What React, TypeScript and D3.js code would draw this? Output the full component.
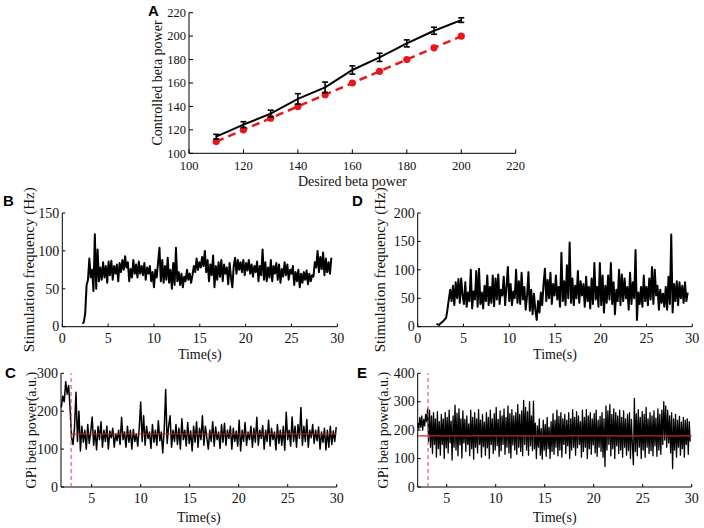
import React from 'react';
import * as d3 from 'd3';

const W = 704;
const H = 528;
const serif = '"Liberation Serif", "Times New Roman", serif';
const sans = '"Liberation Sans", Arial, sans-serif';
const red = '#e8161b';
const lineRed = '#c8282e';

// panel A: desired vs controlled beta power
const desired = [110, 120, 130, 140, 150, 160, 170, 180, 190, 200];
const controlled = [114.2, 124.5, 133.8, 146.4, 156.3, 171.1, 181.9, 193.8, 204.6, 213.7];
const controlledErr = [2, 2.5, 3, 4.5, 4.5, 3.5, 3.5, 3, 3, 2];

// panel B: stimulation frequency (Hz), target 140
const bStart = 2.2;
const bStep = 0.15;
const bFreq = [
  4, 6, 18, 55, 62, 90, 65, 75, 47, 122,
  50, 102, 60, 78, 62, 85, 65, 80, 58, 86,
  68, 87, 62, 80, 70, 82, 60, 84, 72, 88,
  75, 93, 78, 85, 60, 76, 65, 88, 70, 82,
  65, 86, 70, 80, 68, 84, 62, 78, 70, 80,
  60, 72, 52, 75, 65, 85, 104, 60, 88, 58,
  80, 62, 91, 58, 75, 50, 84, 55, 104, 60,
  72, 55, 70, 52, 66, 60, 75, 62, 70, 58,
  68, 80, 72, 90, 75, 85, 78, 92, 80, 100,
  72, 88, 60, 82, 68, 94, 52, 80, 62, 85,
  66, 88, 60, 82, 70, 78, 56, 84, 65, 52,
  80, 91, 70, 88, 75, 85, 72, 88, 68, 84,
  74, 88, 70, 82, 66, 80, 72, 86, 60, 80,
  68, 102, 62, 85, 60, 78, 65, 88, 60, 80,
  70, 84, 62, 82, 58, 76, 66, 85, 68, 82,
  62, 75, 70, 80, 55, 72, 60, 75, 52, 70,
  58, 72, 62, 74, 56, 70, 60, 68, 66, 85,
  78, 100, 72, 92, 76, 98, 68, 90, 72, 85,
  70, 91,
];

// panel C: GPi beta power, target 140
const cStart = 1.9;
const cStep = 0.15;
const cTarget = 140;
const cOnset = 2.9;
const cPower = [
  210, 240, 225, 278, 245, 268, 205, 130, 112, 158,
  250, 120, 200, 95, 160, 118, 150, 100, 165, 115,
  145, 185, 110, 150, 98, 160, 125, 172, 105, 150,
  120, 160, 100, 148, 130, 155, 105, 140, 122, 150,
  112, 184, 125, 145, 105, 160, 118, 150, 100, 152,
  120, 140, 108, 155, 224, 120, 188, 110, 160, 128,
  145, 102, 165, 118, 150, 110, 175, 122, 145, 90,
  150, 257, 115, 160, 188, 105, 150, 120, 165, 112,
  155, 100, 180, 125, 150, 108, 170, 115, 148, 95,
  160, 118, 172, 105, 155, 125, 188, 110, 160, 130,
  100, 150, 120, 172, 108, 158, 125, 145, 102, 165,
  118, 168, 110, 150, 128, 160, 100, 155, 120, 148,
  108, 176, 95, 150, 120, 170, 110, 145, 125, 160,
  105, 155, 118, 184, 110, 150, 128, 162, 100, 150,
  120, 176, 108, 155, 125, 145, 98, 165, 115, 150,
  110, 160, 97, 197, 125, 150, 108, 185, 120, 160,
  105, 165, 128, 210, 110, 160, 120, 178, 105, 150,
  130, 165, 115, 150, 122, 158, 100, 145, 118, 155,
  98, 150, 105, 160, 112, 148, 120, 158,
];

// panel D: stimulation frequency (Hz), target 180
const dStart = 2.05;
const dStep = 0.15;
const dFreq = [
  5, 4, 3, 6, 8, 10, 13, 15, 30, 48,
  65, 45, 72, 38, 78, 50, 84, 42, 85, 55,
  40, 78, 35, 60, 45, 100, 32, 62, 48, 98,
  35, 102, 40, 60, 32, 72, 45, 90, 38, 70,
  42, 90, 36, 85, 48, 92, 40, 65, 55, 88,
  38, 70, 105, 45, 75, 38, 62, 50, 100, 42,
  80, 40, 95, 48, 70, 30, 55, 96, 28, 65,
  22, 58, 30, 12, 45, 25, 60, 38, 75, 102,
  45, 82, 50, 95, 40, 75, 55, 90, 48, 70,
  35, 130, 45, 80, 38, 108, 50, 148, 42, 85,
  38, 72, 50, 98, 42, 80, 55, 75, 35, 88,
  45, 70, 32, 85, 40, 112, 48, 70, 35, 112,
  38, 90, 25, 72, 42, 90, 48, 112, 40, 78,
  22, 65, 45, 100, 38, 92, 45, 85, 50, 70,
  30, 95, 40, 78, 50, 135, 12, 60, 40, 70,
  35, 90, 45, 70, 38, 85, 48, 105, 40, 100,
  55, 72, 30, 65, 42, 58, 35, 70, 30, 88,
  40, 162, 25, 75, 45, 80, 38, 78, 50, 72,
  42, 78, 45, 60,
];

// panel E: GPi beta power, target 180
const eStart = 2.05;
const eStep = 0.1;
const eTarget = 180;
const eOnset = 3.1;
const ePower = [
  225, 205, 245, 210, 250, 200, 238, 215, 255, 230,
  275, 160, 270, 140, 250, 118, 262, 150, 240, 105,
  265, 135, 230, 112, 255, 150, 240, 100, 262, 138,
  245, 120, 270, 155, 232, 95, 250, 140, 288, 130,
  260, 110, 275, 148, 240, 102, 268, 155, 238, 125,
  250, 150, 222, 110, 270, 135, 245, 98, 262, 140,
  240, 120, 272, 150, 235, 105, 255, 142, 228, 112,
  262, 138, 245, 100, 270, 150, 240, 118, 258, 130,
  280, 145, 238, 108, 268, 128, 250, 150, 275, 115,
  245, 140, 285, 120, 258, 102, 272, 148, 250, 130,
  262, 115, 290, 140, 255, 125, 268, 110, 305, 150,
  280, 130, 265, 112, 300, 145, 250, 128, 302, 135,
  225, 100, 215, 140, 240, 112, 205, 98, 235, 130,
  220, 108, 245, 135, 210, 100, 230, 125, 258, 115,
  235, 140, 270, 110, 248, 130, 262, 105, 240, 150,
  255, 118, 235, 145, 262, 100, 240, 130, 272, 140,
  245, 112, 265, 138, 250, 150, 230, 105, 270, 125,
  245, 140, 272, 100, 250, 135, 262, 115, 240, 148,
  258, 120, 270, 108, 235, 140, 248, 125, 262, 105,
  240, 72, 285, 130, 268, 150, 290, 110, 255, 135,
  275, 100, 262, 145, 250, 118, 270, 130, 245, 105,
  268, 140, 240, 112, 255, 128, 262, 100, 238, 145,
  78, 312, 125, 258, 110, 272, 140, 245, 100, 265,
  130, 255, 105, 280, 140, 240, 118, 262, 128, 250,
  110, 268, 145, 242, 108, 275, 130, 255, 115, 270,
  150, 300, 165, 285, 140, 270, 155, 250, 120, 262,
  65, 240, 130, 255, 105, 235, 140, 248, 112, 228,
  135, 245, 105, 235, 150, 240, 115, 230, 160,
];

const timeTicks = [0, 5, 10, 15, 20, 25, 30];
const timeTicksLate = [5, 10, 15, 20, 25, 30];

type Lin = d3.ScaleLinear<number, number>;

function Axes({ x, y, xTicks, yTicks, fs, tick, xLabel, yLabel, xLabelY, yLabelX, xTickDy, yLabelFs }: {
  x: Lin; y: Lin; xTicks: number[]; yTicks: number[]; fs: number; tick: number;
  xLabel: string; yLabel: string; xLabelY: number; yLabelX: number; xTickDy: number; yLabelFs: number;
}) {
  const [xa, xb] = x.range();
  const [ya, yb] = y.range();
  const midY = (ya + yb) / 2;
  return (
    <g fontFamily={serif} fill="#111">
      <line x1={xa} x2={xb} y1={ya} y2={ya} stroke="#000" strokeWidth={1} />
      <line x1={xa} x2={xa} y1={ya} y2={yb} stroke="#000" strokeWidth={1} />
      {xTicks.map(t => (
        <g key={'x' + t}>
          <line x1={x(t)} x2={x(t)} y1={ya} y2={ya - tick} stroke="#000" />
          <text x={x(t)} y={ya + xTickDy} fontSize={fs} textAnchor="middle">{t}</text>
        </g>
      ))}
      {yTicks.map(t => (
        <g key={'y' + t}>
          <line x1={xa} x2={xa + tick} y1={y(t)} y2={y(t)} stroke="#000" />
          <text x={xa - 3} y={y(t) + fs * 0.34} fontSize={fs} textAnchor="end">{t}</text>
        </g>
      ))}
      <text x={(xa + xb) / 2} y={xLabelY} fontSize={14} textAnchor="middle">{xLabel}</text>
      <text transform={`translate(${yLabelX},${midY}) rotate(-90)`} fontSize={yLabelFs} textAnchor="middle">{yLabel}</text>
    </g>
  );
}

function Trace({ x, y, start, step, values, width }: {
  x: Lin; y: Lin; start: number; step: number; values: number[]; width: number;
}) {
  const path = d3.line<number>()
    .x((d, i) => x(start + i * step))
    .y(d => y(d))(values);
  return <path d={path || ''} fill="none" stroke="#000" strokeWidth={width} strokeLinejoin="round" />;
}

function PanelA() {
  const x = d3.scaleLinear().domain([100, 220]).range([189, 515.7]);
  const y = d3.scaleLinear().domain([100, 220]).range([153.3, 12.7]);
  const ticks = d3.range(100, 221, 20);
  const black = d3.line<number>().x((d, i) => x(desired[i])).y(d => y(d))(controlled);
  const target = d3.line<number>().x(d => x(d)).y(d => y(d))(desired);
  return (
    <g>
      <Axes x={x} y={y} xTicks={ticks} yTicks={ticks} fs={12.5} tick={4}
        xLabel="Desired beta power" yLabel="Controlled beta power"
        xLabelY={186} yLabelX={162} xTickDy={16.5} yLabelFs={14} />
      <path d={target || ''} fill="none" stroke={red} strokeWidth={2.5} strokeDasharray="8,5" />
      {desired.map(d => <circle key={d} cx={x(d)} cy={y(d)} r={3.6} fill={red} />)}
      <path d={black || ''} fill="none" stroke="#000" strokeWidth={2} />
      {desired.map((d, i) => {
        const cx = x(d);
        const lo = y(controlled[i] - controlledErr[i]);
        const hi = y(controlled[i] + controlledErr[i]);
        return (
          <g key={'e' + d} stroke="#000" strokeWidth={1.6}>
            <line x1={cx} x2={cx} y1={lo} y2={hi} />
            <line x1={cx - 3} x2={cx + 3} y1={lo} y2={lo} />
            <line x1={cx - 3} x2={cx + 3} y1={hi} y2={hi} />
          </g>
        );
      })}
      <text x={148} y={16} fontFamily={sans} fontWeight="bold" fontSize={15}>A</text>
    </g>
  );
}

function FreqPanel({ x0, x1, yMax, yTicks, start, step, values, letter, letterX, yLabelX }: {
  x0: number; x1: number; yMax: number; yTicks: number[]; start: number; step: number;
  values: number[]; letter: string; letterX: number; yLabelX: number;
}) {
  const x = d3.scaleLinear().domain([0, 30]).range([x0, x1]);
  const y = d3.scaleLinear().domain([0, yMax]).range([326.7, 213]);
  return (
    <g>
      <Axes x={x} y={y} xTicks={timeTicks} yTicks={yTicks} fs={14} tick={3}
        xLabel="Time(s)" yLabel="Stimulation frequency (Hz)"
        xLabelY={359} yLabelX={yLabelX} xTickDy={16} yLabelFs={15} />
      <Trace x={x} y={y} start={start} step={step} values={values} width={2} />
      <text x={letterX} y={206} fontFamily={sans} fontWeight="bold" fontSize={15}>{letter}</text>
    </g>
  );
}

function PowerPanel({ x0, x1, tMin, yMax, yTicks, start, step, values, target, onset, lineFrom, width, letter, letterX, yLabelX }: {
  x0: number; x1: number; tMin: number; yMax: number; yTicks: number[]; start: number; step: number;
  values: number[]; target: number; onset: number; lineFrom: number; width: number;
  letter: string; letterX: number; yLabelX: number;
}) {
  const x = d3.scaleLinear().domain([tMin, 30]).range([x0, x1]);
  const y = d3.scaleLinear().domain([0, yMax]).range([487, 373.3]);
  return (
    <g>
      <Axes x={x} y={y} xTicks={timeTicksLate} yTicks={yTicks} fs={14} tick={3}
        xLabel="Time(s)" yLabel="GPi beta power(a.u.)"
        xLabelY={522} yLabelX={yLabelX} xTickDy={16} yLabelFs={14} />
      <Trace x={x} y={y} start={start} step={step} values={values} width={width} />
      <line x1={x(lineFrom)} x2={x(30)} y1={y(target)} y2={y(target)} stroke={lineRed} strokeWidth={1.1} />
      <line x1={x(onset)} x2={x(onset)} y1={y(0)} y2={y(yMax)} stroke="#e0506a" strokeWidth={1.1} strokeDasharray="4,3" />
      <text x={letterX} y={378} fontFamily={sans} fontWeight="bold" fontSize={15}>{letter}</text>
    </g>
  );
}

export default function App() {
  return (
    <svg width={W} height={H} style={{ position: 'absolute', left: 0, top: 0, background: '#fff' }}>
      <rect width={W} height={H} fill="#fff" />
      <PanelA />
      <FreqPanel x0={62.3} x1={337.3} yMax={150} yTicks={[0, 50, 100, 150]}
        start={bStart} step={bStep} values={bFreq} letter="B" letterX={3} yLabelX={34} />
      <FreqPanel x0={417.7} x1={692.3} yMax={200} yTicks={[0, 50, 100, 150, 200]}
        start={dStart} step={dStep} values={dFreq} letter="D" letterX={352} yLabelX={385} />
      <PowerPanel x0={61} x1={336.7} tMin={1.87} yMax={300} yTicks={[0, 100, 200, 300]}
        start={cStart} step={cStep} values={cPower} target={cTarget} onset={cOnset} lineFrom={cOnset} width={1.5}
        letter="C" letterX={5} yLabelX={36} />
      <PowerPanel x0={417.7} x1={691.7} tMin={2.04} yMax={400} yTicks={[0, 100, 200, 300, 400]}
        start={eStart} step={eStep} values={ePower} target={eTarget} onset={eOnset} lineFrom={2.04} width={1.3}
        letter="E" letterX={357} yLabelX={388} />
    </svg>
  );
}
